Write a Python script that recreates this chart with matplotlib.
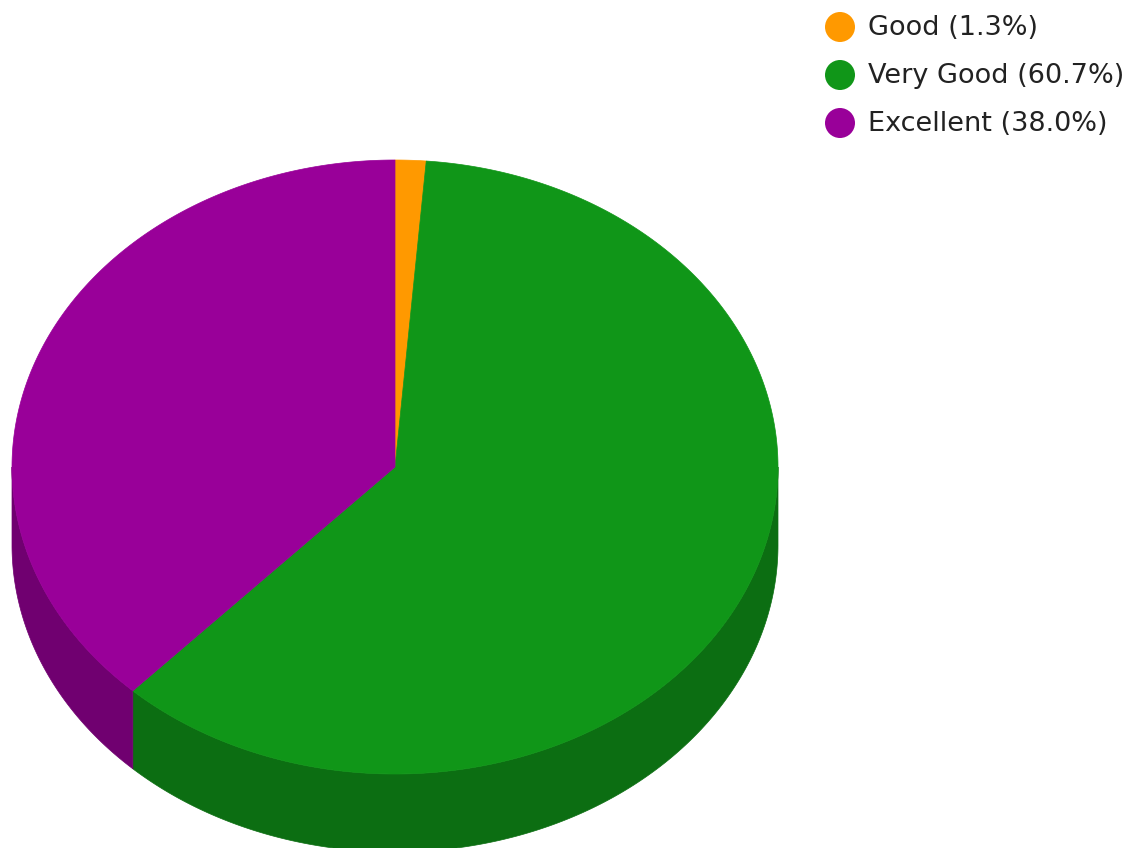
import numpy as np
import matplotlib
matplotlib.use("Agg")
import matplotlib.pyplot as plt
from matplotlib.patches import Polygon, Circle
from matplotlib import font_manager

labels = ["Good", "Very Good", "Excellent"]
values = [1.3, 60.7, 38.0]
colors = ["#ff9900", "#109618", "#990099"]
side_colors = ["#b36b00", "#0c6e12", "#700070"]

names = {f.name for f in font_manager.fontManager.ttflist}
if "DejaVu Sans Condensed" in names:
    fam, fsize = "DejaVu Sans Condensed", 21
else:
    fam, fsize = "DejaVu Sans", 19.5

W, H = 1141, 848
fig = plt.figure(figsize=(W / 100, H / 100), dpi=100)
ax = fig.add_axes([0, 0, 1, 1])
ax.set_xlim(0, W)
ax.set_ylim(H, 0)
ax.axis("off")

cx, cy, rx, ry, depth = 395, 467, 383, 307, 78


def pt(theta_deg, dy=0.0):
    t = np.radians(theta_deg)
    return cx + rx * np.sin(t), cy - ry * np.cos(t) + dy


total = sum(values)
bounds = np.concatenate([[0], np.cumsum(values) / total * 360.0])

# side walls (front half: 90..270 degrees)
for i in range(len(values)):
    a, b = bounds[i], bounds[i + 1]
    lo, hi = max(a, 90), min(b, 270)
    if hi <= lo:
        continue
    th = np.linspace(lo, hi, 200)
    top = [pt(t) for t in th]
    bot = [pt(t, depth) for t in th[::-1]]
    ax.add_patch(Polygon(top + bot, closed=True, facecolor=side_colors[i],
                         edgecolor=side_colors[i], linewidth=0.5))

# top faces
for i in range(len(values)):
    a, b = bounds[i], bounds[i + 1]
    th = np.linspace(a, b, max(int((b - a) * 3), 10))
    poly = [(cx, cy)] + [pt(t) for t in th]
    ax.add_patch(Polygon(poly, closed=True, facecolor=colors[i],
                         edgecolor=colors[i], linewidth=0.5))

# legend
for i, (lab, v) in enumerate(zip(labels, values)):
    y = 27 + i * 48
    ax.add_patch(Circle((840, y), 15, facecolor=colors[i], edgecolor="none"))
    ax.text(868, y + 1, f"{lab} ({v:.1f}%)", fontsize=fsize, color="#222222",
            va="center", ha="left", family=fam)

fig.savefig("out.png", dpi=100)
